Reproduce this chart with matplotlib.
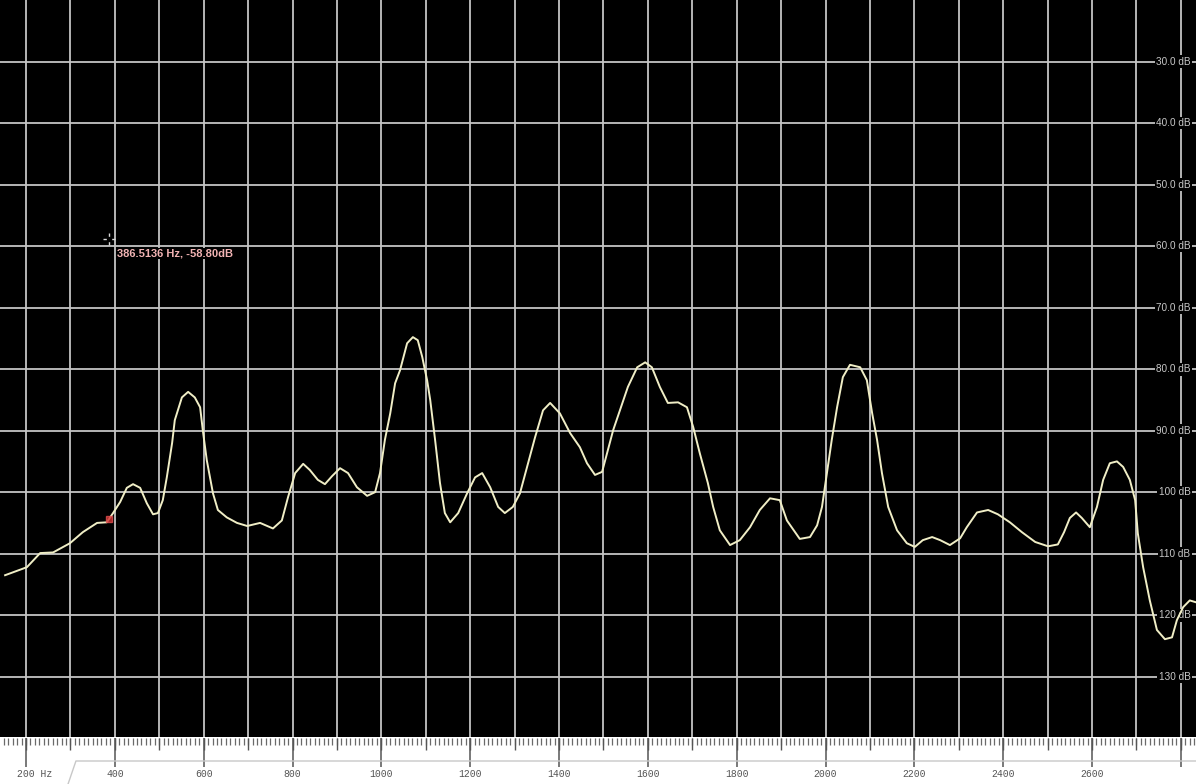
import numpy as np
import matplotlib
matplotlib.use("Agg")
import matplotlib.pyplot as plt
import matplotlib.transforms as mtransforms

# spectrum trace (Hz, dB)
freq = [153, 202, 232, 261, 299, 328, 360, 382, 396, 412, 427, 441, 457, 472, 486, 497,
        508, 517, 529, 535, 551, 565, 580, 592, 598, 607, 621, 632, 652, 675, 698, 727,
        756, 776, 790, 806, 824, 839, 857, 873, 889, 907, 925, 945, 968, 986, 997, 1008,
        1020, 1031, 1042, 1058, 1071, 1082, 1092, 1103, 1110, 1121, 1132, 1143, 1155, 1173,
        1193, 1211, 1227, 1245, 1263, 1278, 1296, 1312, 1328, 1346, 1364, 1380, 1402, 1425,
        1447, 1463, 1481, 1497, 1510, 1522, 1537, 1555, 1576, 1594, 1609, 1627, 1645, 1668,
        1688, 1702, 1717, 1735, 1747, 1762, 1785, 1807, 1830, 1852, 1875, 1897, 1913, 1942,
        1965, 1981, 1992, 2003, 2014, 2026, 2039, 2055, 2078, 2093, 2105, 2116, 2127, 2141,
        2161, 2183, 2201, 2219, 2240, 2258, 2280, 2303, 2318, 2341, 2366, 2388, 2415, 2442,
        2472, 2501, 2523, 2537, 2550, 2564, 2577, 2595, 2611, 2625, 2640, 2656, 2670, 2685,
        2697, 2703, 2715, 2730, 2746, 2764, 2780, 2791, 2805, 2820, 2834]
level = [-113.5, -112.2, -109.9, -109.8, -108.3, -106.5, -105.0, -104.9, -103.4, -101.6,
         -99.3, -98.7, -99.3, -101.8, -103.6, -103.4, -101.3, -97.6, -92.0, -88.3, -84.6,
         -83.7, -84.6, -86.2, -89.9, -94.8, -100.2, -102.9, -104.1, -105.0, -105.5, -105.0,
         -105.9, -104.6, -100.8, -96.9, -95.4, -96.4, -98.0, -98.7, -97.4, -96.1, -96.9,
         -99.2, -100.6, -100.0, -96.9, -91.5, -87.2, -82.3, -80.2, -75.8, -74.8, -75.3,
         -78.0, -81.8, -85.0, -91.5, -98.5, -103.4, -104.9, -103.4, -100.2, -97.6, -96.9,
         -99.2, -102.4, -103.4, -102.4, -100.2, -95.9, -91.1, -86.7, -85.5, -87.2, -90.4,
         -92.7, -95.3, -97.2, -96.7, -93.2, -89.9, -86.7, -82.9, -79.7, -78.9, -79.7, -82.9,
         -85.5, -85.4, -86.2, -89.4, -93.7, -98.5, -102.4, -106.2, -108.6, -107.8, -105.7,
         -102.9, -101.0, -101.3, -104.6, -107.6, -107.3, -105.4, -102.4, -96.9, -91.5, -86.2,
         -81.3, -79.3, -79.7, -81.8, -87.2, -91.5, -96.9, -102.4, -106.2, -108.3, -108.9,
         -107.8, -107.3, -107.8, -108.6, -107.5, -105.7, -103.3, -102.9, -103.6, -104.9,
         -106.5, -108.1, -108.8, -108.5, -106.5, -104.2, -103.3, -104.2, -105.7, -102.4,
         -98.0, -95.3, -95.0, -95.9, -98.0, -101.3, -106.7, -112.2, -117.6, -122.4, -123.9,
         -123.6, -120.8, -118.7, -117.6, -117.9]

db_ticks = [-30, -40, -50, -60, -70, -80, -90, -100, -110, -120, -130]
db_labels = ["30.0 dB", "40.0 dB", "50.0 dB", "60.0 dB", "70.0 dB", "80.0 dB", "90.0 dB",
             "100 dB", "110 dB", "120 dB", "130 dB"]
hz_labels = [200, 400, 600, 800, 1000, 1200, 1400, 1600, 1800, 2000, 2200, 2400, 2600]

cursor_hz, cursor_db = 386.5136, -58.80

xmin, xmax = 141.5, 2834
ymin, ymax = -139.8, -20

fig = plt.figure(figsize=(11.96, 7.84), dpi=100, facecolor="white")
ax = fig.add_axes([0, 47 / 784, 1, 737 / 784])
ax.set_facecolor("black")
ax.set_xlim(xmin, xmax)
ax.set_ylim(ymin, ymax)
for s in ax.spines.values():
    s.set_visible(False)
ax.set_xticks([])
ax.set_yticks([])

grid_c = "#c4c4c4"
for f in np.arange(200, 2801, 100):
    ax.axvline(f, color=grid_c, lw=1.3, zorder=1)
for d in db_ticks:
    ax.axhline(d, color=grid_c, lw=1.3, zorder=1)

# level labels on the right edge
trans = mtransforms.blended_transform_factory(ax.transAxes, ax.transData)
for d, lab in zip(db_ticks, db_labels):
    ax.text(0.9955, d, lab, transform=trans, ha="right", va="center",
            fontsize=7.2, color="#c8c8c8", family="Liberation Sans", zorder=2,
            bbox=dict(facecolor="black", edgecolor="none", pad=1.0))

ax.plot(freq, level, color="#f0eec6", lw=1.4, zorder=3)

# cursor marker on the trace
ax.plot(cursor_hz, np.interp(cursor_hz, freq, level), marker="s", ms=4,
        color="#d03030", mec="#e05050", alpha=0.8, zorder=4)

# crosshair cursor and readout
ax.plot(cursor_hz, cursor_db, marker="+", ms=9, mew=1.0, color="#d8d8d8", zorder=4)
ax.plot(cursor_hz, cursor_db, marker="s", ms=2.5, color="black", zorder=5)
off = mtransforms.offset_copy(ax.transData, fig=fig, x=8, y=-15, units="dots")
ax.text(cursor_hz, cursor_db, f"{cursor_hz:.4f} Hz, {cursor_db:.2f}dB", transform=off,
        ha="left", va="center", fontsize=8, fontweight="bold", color="#f2b4b4",
        family="Liberation Sans", zorder=5,
        bbox=dict(facecolor="black", edgecolor="none", pad=0.5))

# frequency ruler below the plot
axr = fig.add_axes([0, 0, 1, 47 / 784])
axr.set_xlim(xmin, xmax)
axr.set_ylim(47, 0)
axr.axis("off")
minor = np.arange(150, 2840, 10)
mid = np.arange(200, 2840, 100)
major = np.arange(200, 2840, 200)
axr.vlines(minor, 1, 8, color="#6a6a6a", lw=0.9)
axr.vlines(mid, 1, 13, color="#555555", lw=1.0)
axr.vlines(major, 1, 30, color="#555555", lw=1.1)
axr.plot([0.0569, 0.0635, 1.0], [47, 24, 24], color="#c8c8c8", lw=1.0,
         transform=mtransforms.blended_transform_factory(axr.transAxes, axr.transData),
         clip_on=False)
for f in hz_labels:
    if f == 200:
        lt = mtransforms.offset_copy(axr.transData, fig=fig, x=-9, y=0, units="dots")
        axr.text(f, 37, "200 Hz", transform=lt, ha="left", va="center",
                 fontsize=7, color="#555555", family="Liberation Mono")
    else:
        axr.text(f, 37, str(f), ha="center", va="center",
                 fontsize=7, color="#555555", family="Liberation Mono")

fig.savefig("out.png", dpi=100, facecolor="white")
